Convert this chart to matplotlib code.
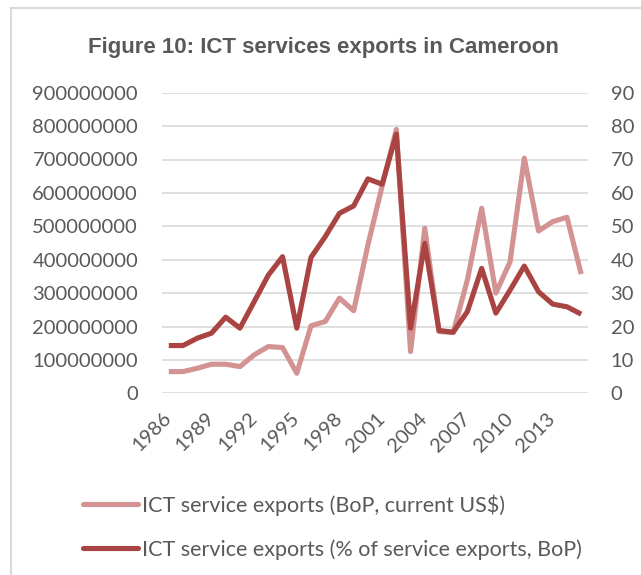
import matplotlib
matplotlib.use("Agg")
import matplotlib.pyplot as plt
from matplotlib.lines import Line2D
from matplotlib.ticker import MultipleLocator, FuncFormatter

# ICT services exports, Cameroon
years = list(range(1986, 2016))
exports_usd = [65e6, 65e6, 75e6, 87e6, 87e6, 80e6, 115e6, 140e6, 137e6, 60e6,
               202e6, 215e6, 285e6, 247e6, 444e6, 620e6, 790e6, 125e6, 494e6, 185e6,
               182e6, 340e6, 554e6, 300e6, 394e6, 704e6, 486e6, 514e6, 527e6, 357e6]
exports_pct = [14.3, 14.3, 16.5, 18.0, 22.8, 19.5, 27.4, 35.4, 40.9, 19.5,
               40.7, 46.9, 53.9, 56.1, 64.2, 62.6, 77.6, 19.5, 44.9, 18.8,
               18.3, 24.5, 37.4, 24.0, 30.9, 38.1, 30.4, 26.7, 25.9, 23.7]
xtick_years = list(range(1986, 2016, 3))

title = "Figure 10: ICT services exports in Cameroon"
label_usd = "ICT service exports (BoP, current US$)"
label_pct = "ICT service exports (% of service exports, BoP)"

LIGHT = "#D39393"
DARK = "#A94442"
TEXT = "#595959"
GRID = "#D9D9D9"
BODY_FONT = ["Lato", "DejaVu Sans"]

W, H = 641, 575
fig = plt.figure(figsize=(W / 100, H / 100), dpi=100)

ax = fig.add_axes([161.7 / W, 1 - 393.3 / H, (588.3 - 161.7) / W, (393.3 - 92.7) / H])
ax2 = ax.twinx()

ax.plot(years, exports_usd, color=LIGHT, lw=3.7, solid_capstyle="butt", solid_joinstyle="round")
ax2.plot(years, exports_pct, color=DARK, lw=3.7, solid_capstyle="butt", solid_joinstyle="round")

ax.set_xlim(1985.5, 2015.5)
ax.set_ylim(0, 900e6)
ax2.set_ylim(0, 90)
ax.yaxis.set_major_locator(MultipleLocator(100e6))
ax.yaxis.set_major_formatter(FuncFormatter(lambda v, p: f"{int(round(v))}"))
ax2.yaxis.set_major_locator(MultipleLocator(10))
ax2.yaxis.set_major_formatter(FuncFormatter(lambda v, p: f"{int(round(v))}"))

ax.set_xticks(xtick_years)
ax.set_xticklabels([str(y) for y in xtick_years], rotation=45, ha="right", va="center",
                   rotation_mode="anchor")

ax.grid(axis="y", color=GRID, lw=1.2)
ax.set_axisbelow(True)
for a in (ax, ax2):
    for s in a.spines.values():
        s.set_visible(False)
    a.tick_params(length=0, labelsize=14.5, labelcolor=TEXT)
    for t in a.get_xticklabels() + a.get_yticklabels():
        t.set_family(BODY_FONT)
ax.tick_params(axis="y", pad=17)
ax.tick_params(axis="x", pad=16)
ax2.tick_params(axis="y", pad=16)

fig.text(323 / W, 1 - 53 / H, title, ha="center", va="baseline",
         fontsize=16, fontweight="bold", color=TEXT,
         family=["Liberation Sans Narrow", "Liberation Sans", "DejaVu Sans"])

handles = [Line2D([], [], color=LIGHT, lw=3.7, solid_capstyle="round"),
           Line2D([], [], color=DARK, lw=3.7, solid_capstyle="round")]
leg = fig.legend(handles, [label_usd, label_pct], loc="upper left",
                 bbox_to_anchor=(83 / W, 1 - 494 / H), frameon=False,
                 handlelength=2.55, handletextpad=0.2, labelspacing=1.1,
                 prop={"family": BODY_FONT, "size": 15.5}, labelcolor=TEXT,
                 borderpad=0, borderaxespad=0)

# chart frame (left and top edges)
fig.add_artist(Line2D([11 / W, 11 / W], [0, 1 - 8 / H], transform=fig.transFigure,
                      color=GRID, lw=1.5))
fig.add_artist(Line2D([11 / W, 1], [1 - 8 / H, 1 - 8 / H], transform=fig.transFigure,
                      color=GRID, lw=1.5))

fig.savefig("out.png", dpi=100)
